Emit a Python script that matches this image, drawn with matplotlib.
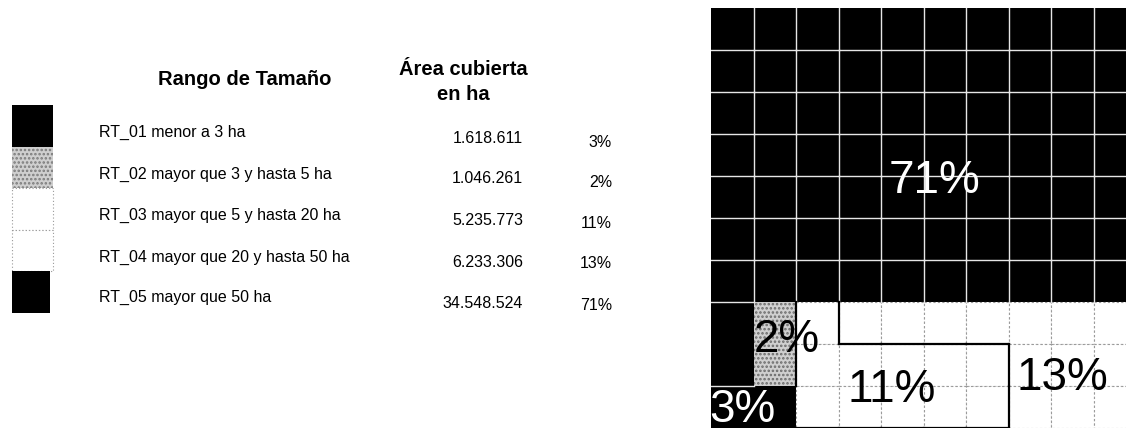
import matplotlib
matplotlib.use("Agg")
import matplotlib.pyplot as plt
from matplotlib.patches import Rectangle

plt.rcParams['font.family'] = ['Liberation Sans', 'DejaVu Sans']
plt.rcParams['hatch.linewidth'] = 1.2

# data
codes = ['A', 'B', 'C', 'D', 'E']
labels = ['RT_01 menor a 3 ha',
          'RT_02 mayor que 3 y hasta 5 ha',
          'RT_03 mayor que 5 y hasta 20 ha',
          'RT_04 mayor que 20 y hasta 50 ha',
          'RT_05 mayor que 50 ha']
areas = ['1.618.611', '1.046.261', '5.235.773', '6.233.306', '34.548.524']
pcts = [3, 2, 11, 13, 71]

# waffle layout (10 x 10, one letter per cell, top row first)
waffle = ['EEEEEEEEEE',
          'EEEEEEEEEE',
          'EEEEEEEEEE',
          'EEEEEEEEEE',
          'EEEEEEEEEE',
          'EEEEEEEEEE',
          'EEEEEEEEEE',
          'EBCDDDDDDD',
          'ABCCCCCDDD',
          'AACCCCCDDD']

# styles
face = {'A': 'black', 'B': '#cfcfcf', 'C': 'white', 'D': 'white', 'E': 'black'}
dark = {'A': True, 'B': False, 'C': False, 'D': False, 'E': True}
# where the % label sits in the waffle (x center, baseline in cell units)
lab_pos = {'A': (0.73, 9.86), 'B': (1.79, 8.2), 'C': (4.26, 9.38),
           'D': (8.26, 9.1), 'E': (5.25, 4.4)}

W, H = 1126, 430
fig = plt.figure(figsize=(W / 100, H / 100), dpi=100)

# ---------- table on the left (pixel coordinates) ----------
ax0 = fig.add_axes([0, 0, 1, 1])
ax0.set_xlim(0, W)
ax0.set_ylim(H, 0)
ax0.axis('off')

ax0.text(245, 85, 'Rango de Tamaño', ha='center', va='baseline',
         fontsize=14.5, fontweight='bold')
ax0.text(463, 75, 'Área cubierta', ha='center', va='baseline',
         fontsize=14.5, fontweight='bold')
ax0.text(463, 100, 'en ha', ha='center', va='baseline',
         fontsize=14.5, fontweight='bold')

sw_top, sw_h = 105, 41.6
lab_base = [137, 179, 220, 262, 302]
val_base = [143, 183, 225, 267, 308]
pct_base = [147, 187, 228, 268, 310]
for i, c in enumerate(codes):
    y = sw_top + i * sw_h
    if c == 'B':
        ax0.add_patch(Rectangle((12, y), 41, sw_h, facecolor=face[c],
                                edgecolor='#7a7a7a', lw=0, hatch='....'))
    elif dark[c]:
        ax0.add_patch(Rectangle((12, y), 41 if i == 0 else 38, sw_h,
                                facecolor='black', lw=0))
    else:
        ax0.add_patch(Rectangle((12, y), 41, sw_h, facecolor='white',
                                edgecolor='#999999', lw=0.8, ls=(0, (1, 2))))
    ax0.text(99, lab_base[i], labels[i], ha='left', va='baseline', fontsize=11.5)
    ax0.text(523, val_base[i], areas[i], ha='right', va='baseline', fontsize=11.5)
    ax0.text(612, pct_base[i], f'{pcts[i]}%', ha='right', va='baseline',
             fontsize=11.5)

# ---------- waffle on the right ----------
x0, y0, cw, ch = 711, 8, 42.5, 42
ax = fig.add_axes([x0 / W, 1 - (y0 + 10 * ch) / H, 10 * cw / W, 10 * ch / H])
ax.set_xlim(0, 10)
ax.set_ylim(10, 0)
ax.axis('off')

nr, nc = len(waffle), len(waffle[0])
for r in range(nr):
    for c in range(nc):
        k = waffle[r][c]
        if k == 'B':
            ax.add_patch(Rectangle((c, r), 1, 1, facecolor=face[k],
                                   edgecolor='#6a6a6a', lw=0, hatch='....'))
        elif dark[k]:
            ax.add_patch(Rectangle((c, r), 1, 1, facecolor='black', lw=0))
        else:
            ax.add_patch(Rectangle((c, r), 1, 1, facecolor='white',
                                   edgecolor='#9a9a9a', lw=0.8,
                                   ls=(0, (2, 2))))

# light lines inside dark regions, black borders between light regions
for r in range(nr):
    for c in range(nc):
        k = waffle[r][c]
        right = waffle[r][c + 1] if c + 1 < nc else None
        below = waffle[r + 1][c] if r + 1 < nr else None
        if dark[k]:
            if right == k and k == 'E':
                ax.plot([c + 1, c + 1], [r, r + 1], color='#e6e6e6', lw=1.0)
            if below == k:
                ax.plot([c, c + 1], [r + 1, r + 1], color='#e6e6e6', lw=1.0)
            continue
        if right is not None and right != k and not dark[right]:
            ax.plot([c + 1, c + 1], [r, r + 1], color='black', lw=1.6)
        if below is not None and below != k and not dark[below]:
            ax.plot([c, c + 1], [r + 1, r + 1], color='black', lw=1.6)
        if below is None and k == 'C':
            ax.plot([c, c + 1], [r + 1, r + 1], color='black', lw=1.6)

for i, k in enumerate(codes):
    px, py = lab_pos[k]
    ax.text(px, py, f'{pcts[i]}%', ha='center', va='baseline', fontsize=33,
            color='white' if dark[k] else 'black')

fig.savefig('out.png', dpi=100)
